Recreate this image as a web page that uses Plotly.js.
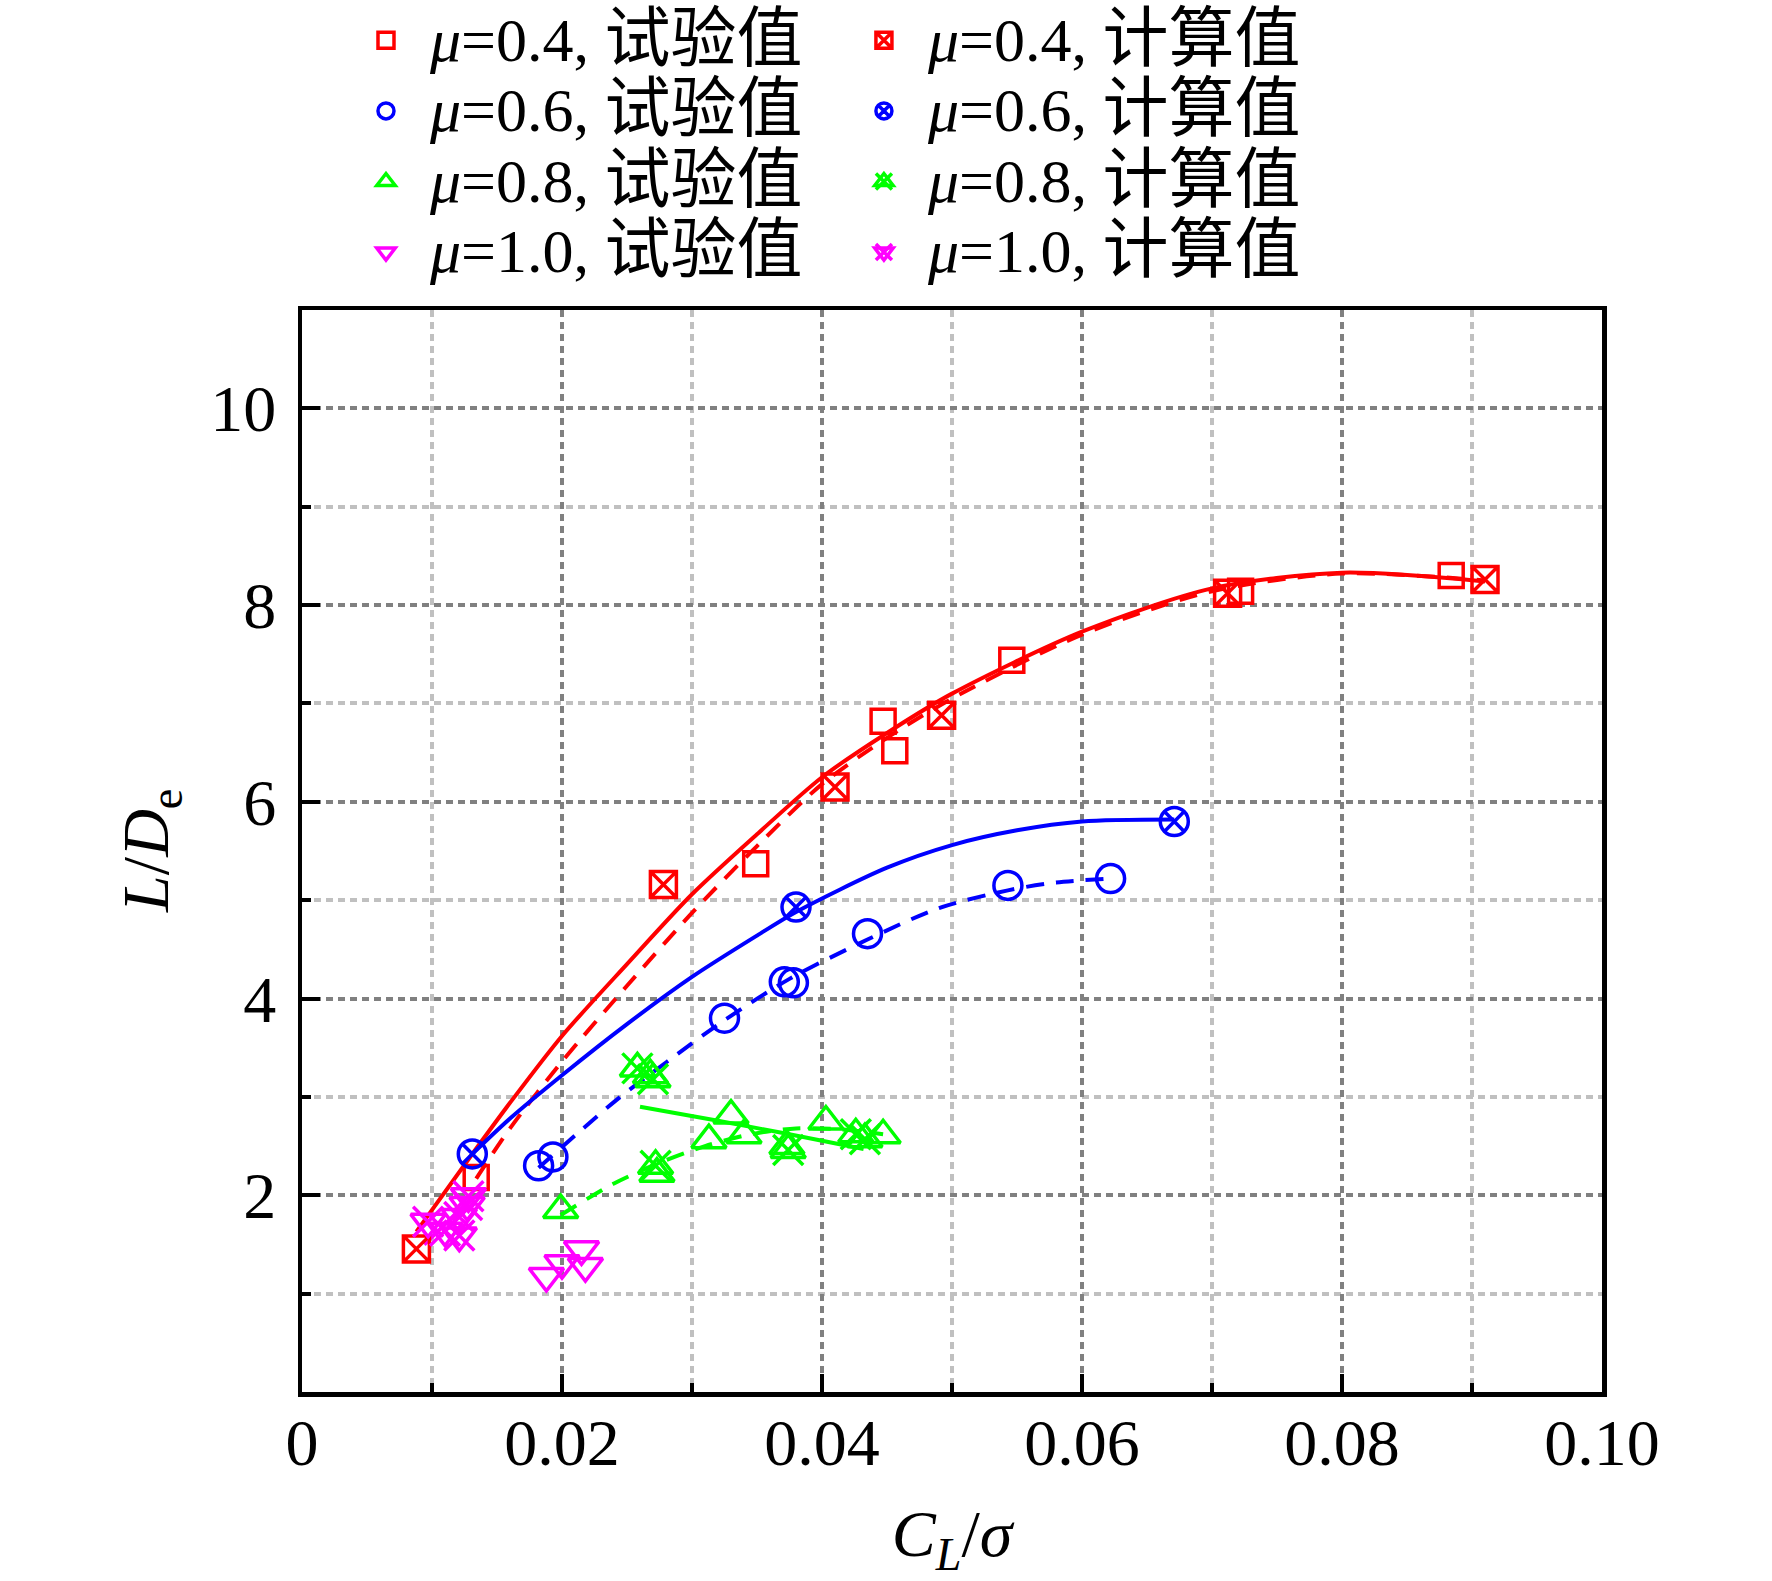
<!DOCTYPE html>
<html>
<head>
<meta charset="utf-8">
<script src="https://cdn.plot.ly/plotly-3.0.1.min.js"></script>
<style>html,body{margin:0;padding:0;background:#fff;}#chart{width:1772px;height:1581px;}</style>
</head>
<body>
<div id="chart"></div>
<script>
// ---------- data ----------
// mu = 0.4
const x04Test = [0.0134, 0.0349, 0.0447, 0.0456, 0.0546, 0.0722, 0.0884];
const y04Test = [2.18, 5.37, 6.82, 6.52, 7.44, 8.14, 8.30];
const x04Calc = [0.0088, 0.0278, 0.0410, 0.0492, 0.0712, 0.0910];
const y04Calc = [1.455, 5.16, 6.15, 6.88, 8.12, 8.26];
const x04TestFit = [0.0134, 0.016, 0.020, 0.025, 0.030, 0.035, 0.040, 0.045, 0.050, 0.060, 0.070, 0.080, 0.091];
const y04TestFit = [2.17, 2.68, 3.36, 4.13, 4.87, 5.55, 6.18, 6.65, 7.05, 7.70, 8.14, 8.32, 8.25];
const x04CalcFit = [0.0088, 0.0131, 0.016, 0.020, 0.025, 0.030, 0.035, 0.040, 0.045, 0.050, 0.060, 0.070, 0.080, 0.091];
const y04CalcFit = [1.63, 2.42, 2.94, 3.62, 4.35, 5.06, 5.67, 6.25, 6.70, 7.10, 7.73, 8.17, 8.33, 8.24];

// mu = 0.6
const x06Test = [0.0182, 0.0193, 0.0325, 0.0371, 0.0378, 0.0435, 0.0543, 0.0622];
const y06Test = [2.30, 2.39, 3.80, 4.17, 4.16, 4.66, 5.15, 5.22];
const x06Calc = [0.0131, 0.0380, 0.0671];
const y06Calc = [2.42, 4.93, 5.80];
const x06TestFit = [0.0182, 0.0242, 0.0281, 0.0325, 0.0375, 0.0435, 0.049, 0.0543, 0.058, 0.0622];
const y06TestFit = [2.28, 2.97, 3.36, 3.78, 4.20, 4.60, 4.92, 5.10, 5.18, 5.22];
const x06CalcFit = [0.0131, 0.016, 0.020, 0.025, 0.030, 0.035, 0.038, 0.045, 0.050, 0.055, 0.060, 0.0671];
const y06CalcFit = [2.42, 2.78, 3.22, 3.74, 4.22, 4.64, 4.88, 5.33, 5.56, 5.71, 5.80, 5.82];

// mu = 0.8
const x08Test = [0.0199, 0.0268, 0.0273, 0.0313, 0.0330, 0.0340, 0.0373, 0.0403, 0.0447];
const y08Test = [1.85, 3.22, 2.22, 2.56, 2.81, 2.61, 2.50, 2.75, 2.61];
const x08Calc = [0.0258, 0.0270, 0.0272, 0.0374, 0.0426, 0.0433];
const y08Calc = [3.29, 3.18, 2.30, 2.46, 2.62, 2.57];
const x08TestFit = [0.0199, 0.024, 0.0275, 0.031, 0.0345, 0.038, 0.0415, 0.0447];
const y08TestFit = [1.80, 2.12, 2.33, 2.50, 2.62, 2.68, 2.67, 2.62];
const x08CalcFit = [0.0260, 0.0319, 0.0371, 0.0432];
const y08CalcFit = [2.90, 2.76, 2.63, 2.47];

// mu = 1.0
const x10Test = [0.0188, 0.0200, 0.0215, 0.0218];
const y10Test = [1.18, 1.31, 1.45, 1.28];
const x10Calc = [0.0097, 0.0110, 0.0121, 0.0121, 0.0127, 0.0128];
const y10Calc = [1.73, 1.64, 1.59, 1.78, 1.90, 1.99];
const x10CalcFit = [0.0094, 0.0112, 0.0130];
const y10CalcFit = [1.50, 1.73, 1.97];

// labels
const muLabels = ['0.4', '0.6', '0.8', '1.0'];
const testLabel = '试验值';
const calcLabel = '计算值';
const xTickVals = [0, 0.02, 0.04, 0.06, 0.08, 0.10];
const xTickText = ['0', '0.02', '0.04', '0.06', '0.08', '0.10'];
const yTickVals = [2, 4, 6, 8, 10];
const yTickText = ['2', '4', '6', '8', '10'];
const xTitle = '<i>C</i><sub><i>L</i></sub>/<i>σ</i>';
const yTitle = '<i>L</i>/<i>D</i><sub>e</sub>';

// ---------- styling ----------
const RED = '#ff0000', BLUE = '#0000ff', GREEN = '#00ff00', MAG = '#ff00ff';
const FONT = '"Liberation Serif", "Noto Sans CJK SC", serif';
const TEST_DASH = '18px,12px';

function nm(mu, label) {
  return '<span style="font-size:62px"><i>μ</i>=' + mu + ', </span><span style="font-size:66px">' + label + '</span>';
}
function fit(x, y, color, dash) {
  return {x: x, y: y, mode: 'lines', type: 'scatter', showlegend: false, hoverinfo: 'skip',
          line: {color: color, width: 4, dash: dash, shape: 'spline', smoothing: 0.8}};
}
function mk(x, y, name, symbol, color, legend, size) {
  return {x: x, y: y, mode: 'markers', type: 'scatter', name: name, legend: legend,
          marker: {symbol: symbol, size: size || 26, color: color, line: {color: color, width: 3.5}}};
}

const traces = [
  fit(x04CalcFit, y04CalcFit, RED, 'solid'),
  fit(x04TestFit, y04TestFit, RED, TEST_DASH),
  fit(x06CalcFit, y06CalcFit, BLUE, 'solid'),
  fit(x06TestFit, y06TestFit, BLUE, TEST_DASH),
  fit(x08CalcFit, y08CalcFit, GREEN, 'solid'),
  fit(x08TestFit, y08TestFit, GREEN, TEST_DASH),
  fit(x10CalcFit, y10CalcFit, MAG, 'solid'),
  // test values (left legend column)
  mk(x04Test, y04Test, nm(muLabels[0], testLabel), 'square-open', RED, 'legend', 24),
  mk(x06Test, y06Test, nm(muLabels[1], testLabel), 'circle-open', BLUE, 'legend', 28),
  mk(x08Test, y08Test, nm(muLabels[2], testLabel), 'triangle-up-open', GREEN, 'legend', 30),
  mk(x10Test, y10Test, nm(muLabels[3], testLabel), 'triangle-down-open', MAG, 'legend', 30),
  // calculated values (right legend column)
  mk(x04Calc, y04Calc, nm(muLabels[0], calcLabel), 'square-x-open', RED, 'legend2', 26),
  mk(x06Calc, y06Calc, nm(muLabels[1], calcLabel), 'circle-x-open', BLUE, 'legend2', 28),
  mk(x08Calc, y08Calc, nm(muLabels[2], calcLabel), 'triangle-up-open', GREEN, 'legend2', 30),
  mk(x10Calc, y10Calc, nm(muLabels[3], calcLabel), 'triangle-down-open', MAG, 'legend2', 30),
  // X overlays of the calculated triangle symbols (overlaid legend rows 3-4)
  mk(x08Calc, y08Calc, ' ', 'x-thin-open', GREEN, 'legend3', 30),
  mk(x10Calc, y10Calc, ' ', 'x-thin-open', MAG, 'legend3', 30)
];

const legendCommon = {
  xref: 'container', yref: 'container', xanchor: 'left', yanchor: 'top',
  orientation: 'v', bgcolor: 'rgba(0,0,0,0)', borderwidth: 0, itemwidth: 78,
  tracegroupgap: 0, font: {family: FONT, size: 52, color: '#000'}
};

const gridDash = '7px,5px';
const axisCommon = {
  showline: true, linewidth: 4.5, linecolor: '#000', mirror: true,
  ticks: 'inside', ticklen: 18, tickwidth: 4, tickcolor: '#000',
  showgrid: true, gridcolor: '#808080', gridwidth: 4, griddash: gridDash,
  zeroline: false, automargin: false, tickmode: 'array', tickangle: 0,
  tickfont: {family: FONT, size: 66, color: '#000'}
};

const layout = {
  width: 1772, height: 1581,
  paper_bgcolor: '#fff', plot_bgcolor: '#fff',
  margin: {l: 302, r: 170, t: 310, b: 189, autoexpand: false},
  showlegend: true,
  legend: Object.assign({}, legendCommon, {x: 0.193, y: 1.0}),
  legend2: Object.assign({}, legendCommon, {x: 0.474, y: 1.0}),
  legend3: Object.assign({}, legendCommon, {x: 0.474, y: 1.0 - 141.2 / 1581}),
  xaxis: Object.assign({}, axisCommon, {
    range: [0, 0.1], tickvals: xTickVals, ticktext: xTickText, ticklabelstandoff: -11,
    minor: {tickmode: 'linear', tick0: 0, dtick: 0.01, ticks: 'inside', ticklen: 9, tickwidth: 4,
            tickcolor: '#000', showgrid: true, gridcolor: '#c0c0c0', gridwidth: 4, griddash: gridDash},
    title: {text: xTitle, font: {family: FONT, size: 66, color: '#000'}, standoff: 33}
  }),
  yaxis: Object.assign({}, axisCommon, {
    range: [0, 11], tickvals: yTickVals, ticktext: yTickText, ticklabelstandoff: 8,
    minor: {tickmode: 'linear', tick0: 0, dtick: 1, ticks: 'inside', ticklen: 9, tickwidth: 4,
            tickcolor: '#000', showgrid: true, gridcolor: '#c0c0c0', gridwidth: 4, griddash: gridDash}
  }),
  annotations: [{
    text: yTitle, xref: 'paper', yref: 'paper', x: -0.117, y: 0.5,
    xanchor: 'center', yanchor: 'middle', textangle: -90, showarrow: false,
    font: {family: FONT, size: 66, color: '#000'}
  }]
};

Plotly.newPlot('chart', traces, layout, {staticPlot: true, displayModeBar: false});
</script>
</body>
</html>
